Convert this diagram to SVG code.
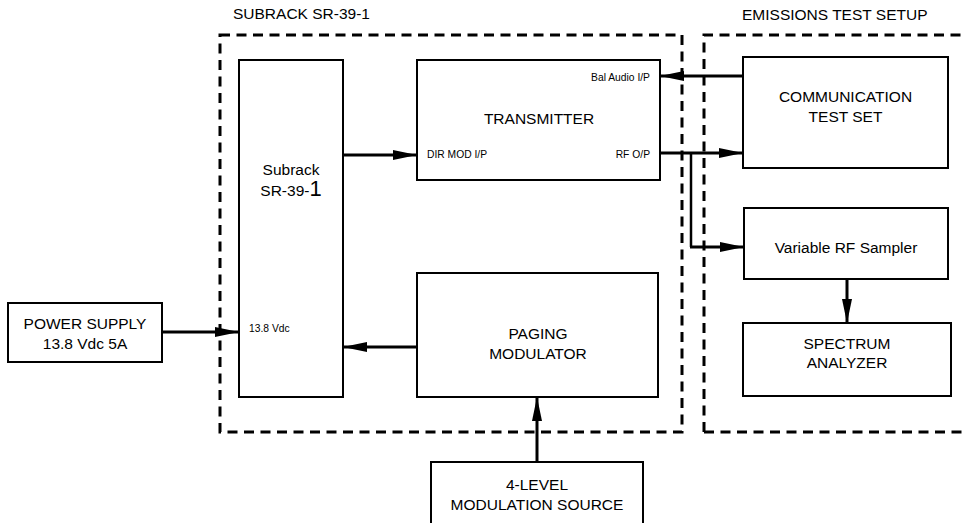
<svg xmlns="http://www.w3.org/2000/svg" width="967" height="523" viewBox="0 0 967 523">
<style>
  text { font-family: "Liberation Sans", Arial, sans-serif; fill: #000; }
  .t { font-size: 15.5px; }
  .s { font-size: 10.3px; }
  .m { text-anchor: middle; }
  .e { text-anchor: end; }
  .box { fill: #fff; stroke: #000; stroke-width: 2; }
  .dash { fill: none; stroke: #000; stroke-width: 3; stroke-dasharray: 10 6.5; }
  .wire { fill: none; stroke: #000; stroke-width: 3; }
  .arr { fill: none; stroke: #000; stroke-width: 3; marker-end: url(#ah); }
</style>
<defs>
  <marker id="ah" markerUnits="userSpaceOnUse" markerWidth="25" markerHeight="10" refX="24" refY="5" orient="auto">
    <path d="M0,0 L24,5 L0,10 z" fill="#000"/>
  </marker>
</defs>
<rect width="967" height="523" fill="#fff"/>

<g id="frames">
  <rect class="dash" x="220" y="35" width="462" height="397"/>
  <path class="dash" d="M704,432 L704,35 L970,35"/>
  <path class="dash" d="M704,432 L970,432"/>
  <text class="t" x="233" y="18.5">SUBRACK SR-39-1</text>
  <text class="t" x="742" y="19.5">EMISSIONS TEST SETUP</text>
</g>

<g id="connectors">
  <path class="arr" d="M343,155 L417,155"/>
  <path class="arr" d="M162,332 L239,332"/>
  <path class="arr" d="M419,347 L343,347"/>
  <path class="arr" d="M537,462 L537,397"/>
  <path class="arr" d="M743,76 L660,76"/>
  <path class="arr" d="M660,153 L743,153"/>
  <path class="wire" style="stroke-width:2.5" d="M691,153 L691,247"/>
  <path class="arr" d="M690,247 L744,247"/>
  <path class="arr" d="M847,279 L847,323"/>
</g>

<g id="subrack">
  <rect class="box" x="239" y="60" width="104" height="337"/>
  <text class="t m" x="291" y="175">Subrack</text>
  <text class="t m" x="291" y="196">SR-39-<tspan style="font-size:22px">1</tspan></text>
  <text class="s" x="249" y="332">13.8 Vdc</text>
</g>

<g id="transmitter">
  <rect class="box" x="417" y="60" width="243" height="120"/>
  <text class="t m" x="539" y="124">TRANSMITTER</text>
  <text class="s e" x="650" y="81">Bal Audio I/P</text>
  <text class="s" x="427" y="158">DIR MOD I/P</text>
  <text class="s e" x="650" y="158">RF O/P</text>
</g>

<g id="paging-modulator">
  <rect class="box" x="417" y="273" width="241" height="124"/>
  <text class="t m" x="538" y="338.5">PAGING</text>
  <text class="t m" x="538" y="358.5">MODULATOR</text>
</g>

<g id="power-supply">
  <rect class="box" x="8" y="303" width="154" height="59"/>
  <text class="t m" x="85" y="329">POWER SUPPLY</text>
  <text class="t m" x="85" y="349">13.8 Vdc 5A</text>
</g>

<g id="modulation-source">
  <rect class="box" x="431" y="462" width="212" height="64"/>
  <text class="t m" x="537" y="490">4-LEVEL</text>
  <text class="t m" x="537" y="509.5">MODULATION SOURCE</text>
</g>

<g id="comm-test-set">
  <rect class="box" x="743" y="57" width="205" height="111"/>
  <text class="t m" x="845.5" y="101.7">COMMUNICATION</text>
  <text class="t m" x="845.5" y="121.7">TEST SET</text>
</g>

<g id="rf-sampler">
  <rect class="box" x="744" y="208" width="204" height="71"/>
  <text class="t m" x="846" y="253.3">Variable RF Sampler</text>
</g>

<g id="spectrum-analyzer">
  <rect class="box" x="743" y="323" width="208" height="73"/>
  <text class="t m" x="847" y="349.3">SPECTRUM</text>
  <text class="t m" x="847" y="368.3">ANALYZER</text>
</g>
</svg>
